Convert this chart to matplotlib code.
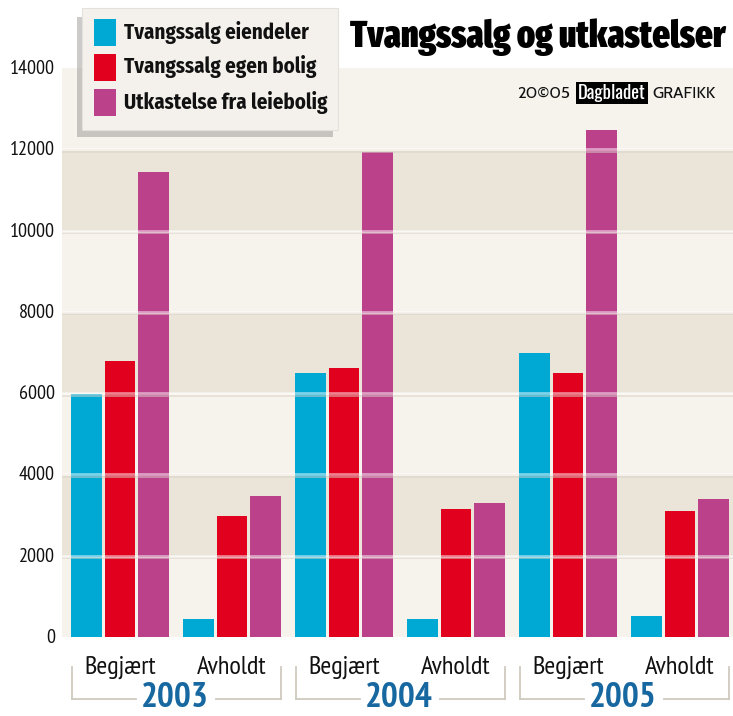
import matplotlib
matplotlib.use("Agg")
import matplotlib.pyplot as plt
from matplotlib import font_manager as fm
from matplotlib.patches import Rectangle
from matplotlib.lines import Line2D

_names = {f.name for f in fm.fontManager.ttflist}

def pick(*cands):
    for c in cands:
        if c in _names:
            return c
    return "DejaVu Sans"

REG = pick("PT Sans Narrow", "Fira Sans Condensed", "Roboto Condensed", "Archivo Narrow",
           "Liberation Sans Narrow")
LEG = pick("Fira Sans Condensed", "Roboto Condensed", "PT Sans Narrow", "Archivo Narrow")
TITLE = pick("Fira Sans Extra Condensed", "Fira Sans Condensed", "Roboto Condensed",
             "Barlow Condensed")
CRED = pick("Gill Sans", "Cabin", "Lato", "Open Sans")
DAG = pick("Oswald", "Roboto Condensed", "Fira Sans Condensed")

# ---- data ----
years = ["2003", "2004", "2005"]
stages = ["Begjært", "Avholdt"]
series_names = ["Tvangssalg eiendeler", "Tvangssalg egen bolig", "Utkastelse fra leiebolig"]
eiendeler = [5975, 440, 6490, 440, 6980, 520]
egen_bolig = [6790, 2980, 6610, 3150, 6490, 3100]
leiebolig = [11430, 3470, 11930, 3300, 12470, 3390]
yticks = [0, 2000, 4000, 6000, 8000, 10000, 12000, 14000]
colors = ["#00a8d4", "#e2001f", "#bb418a"]

W, H = 733, 716
fig = plt.figure(figsize=(W / 100, H / 100), dpi=100)
fig.patch.set_facecolor("white")

def fx(px):
    return px / W

def fy(py):
    return 1 - py / H

# axes: x from 62 to 733 px, y from 637 (0) to 68 (14000)
ax = fig.add_axes([fx(62), fy(637), fx(733) - fx(62), fy(68) - fy(637)])
ax.set_xlim(-0.518, 5.473)
ax.set_ylim(0, 14000)
ax.axis("off")

light, dark = "#f6f2ec", "#ebe4d8"
for i in range(7):
    ax.add_patch(Rectangle((-1, i * 2000), 10, 2000,
                           facecolor=light if i % 2 == 0 else dark,
                           edgecolor="none", zorder=0))

xs = list(range(6))
bw = 0.275
off = 0.298
for k, vals in enumerate([eiendeler, egen_bolig, leiebolig]):
    ax.bar([x + (k - 1) * off for x in xs], vals, width=bw, color=colors[k],
           edgecolor="none", zorder=2)

for t in yticks[1:-1]:
    ax.axhline(t - 60, color="#d9d2c6", lw=1.2, alpha=0.6, zorder=3)
    ax.axhline(t, color="white", lw=2.0, alpha=0.5, zorder=3)

for t in yticks:
    fig.text(fx(55), fy(638 - t * (569 / 14000)), str(t), ha="right", va="center",
             fontsize=14.5, family=REG, color="#111111")

centers_px = [120 + 112 * i for i in range(6)]
for i, cx in enumerate(centers_px):
    fig.text(fx(cx), fy(667), stages[i % 2], ha="center", va="center",
             fontsize=19, family=REG, color="#111111")

gray = "#cfcabf"
for j, yr in enumerate(years):
    x0 = 72 + 224 * j
    x1 = 281 + 224 * j
    cx = (x0 + x1) / 2
    kw = dict(transform=fig.transFigure, color=gray, lw=1.3)
    fig.add_artist(Line2D([fx(x0), fx(x0)], [fy(667), fy(699)], **kw))
    fig.add_artist(Line2D([fx(x1), fx(x1)], [fy(667), fy(699)], **kw))
    fig.add_artist(Line2D([fx(x0), fx(cx - 41)], [fy(699), fy(699)], **kw))
    fig.add_artist(Line2D([fx(cx + 39), fx(x1)], [fy(699), fy(699)], **kw))
    fig.text(fx(cx - 2), fy(698), yr, ha="center", va="center", fontsize=25.5,
             family=REG, weight="bold", color="#1768a0")

fig.text(fx(726), fy(37), "Tvangssalg og utkastelser", ha="right", va="center",
         fontsize=26.7, family=TITLE, weight="black", color="black")

fig.text(fx(517), fy(94), "20©05", ha="left", va="center", fontsize=12,
         family=CRED, color="#111111")
fig.text(fx(578), fy(93), "Dagbladet", ha="left", va="center", fontsize=13.5,
         family=DAG, weight="bold", color="white",
         bbox=dict(boxstyle="square,pad=0.1", facecolor="black", edgecolor="none"))
fig.text(fx(652), fy(94), "GRAFIKK", ha="left", va="center", fontsize=12,
         family=CRED, color="#111111")

fig.add_artist(Rectangle((fx(77), fy(137)), fx(338) - fx(82), fy(10) - fy(130),
                         transform=fig.transFigure, facecolor="#9a9894", edgecolor="none",
                         alpha=0.5, zorder=5))
fig.add_artist(Rectangle((fx(82), fy(130)), fx(338) - fx(82), fy(8) - fy(130),
                         transform=fig.transFigure, facecolor="#f4f1ec", edgecolor="#e4e0da",
                         lw=0.8, zorder=6))
for k, name in enumerate(series_names):
    ytop = 19 + 35 * k
    fig.add_artist(Rectangle((fx(94), fy(ytop + 27)), fx(116) - fx(94), fy(ytop) - fy(ytop + 27),
                             transform=fig.transFigure, facecolor=colors[k], edgecolor="none",
                             zorder=7))
    fig.text(fx(124), fy(ytop + 13), name, ha="left", va="center", fontsize=15,
             family=LEG, weight="bold", color="#111111", zorder=8)

fig.savefig("out.png", dpi=100, facecolor="white")
